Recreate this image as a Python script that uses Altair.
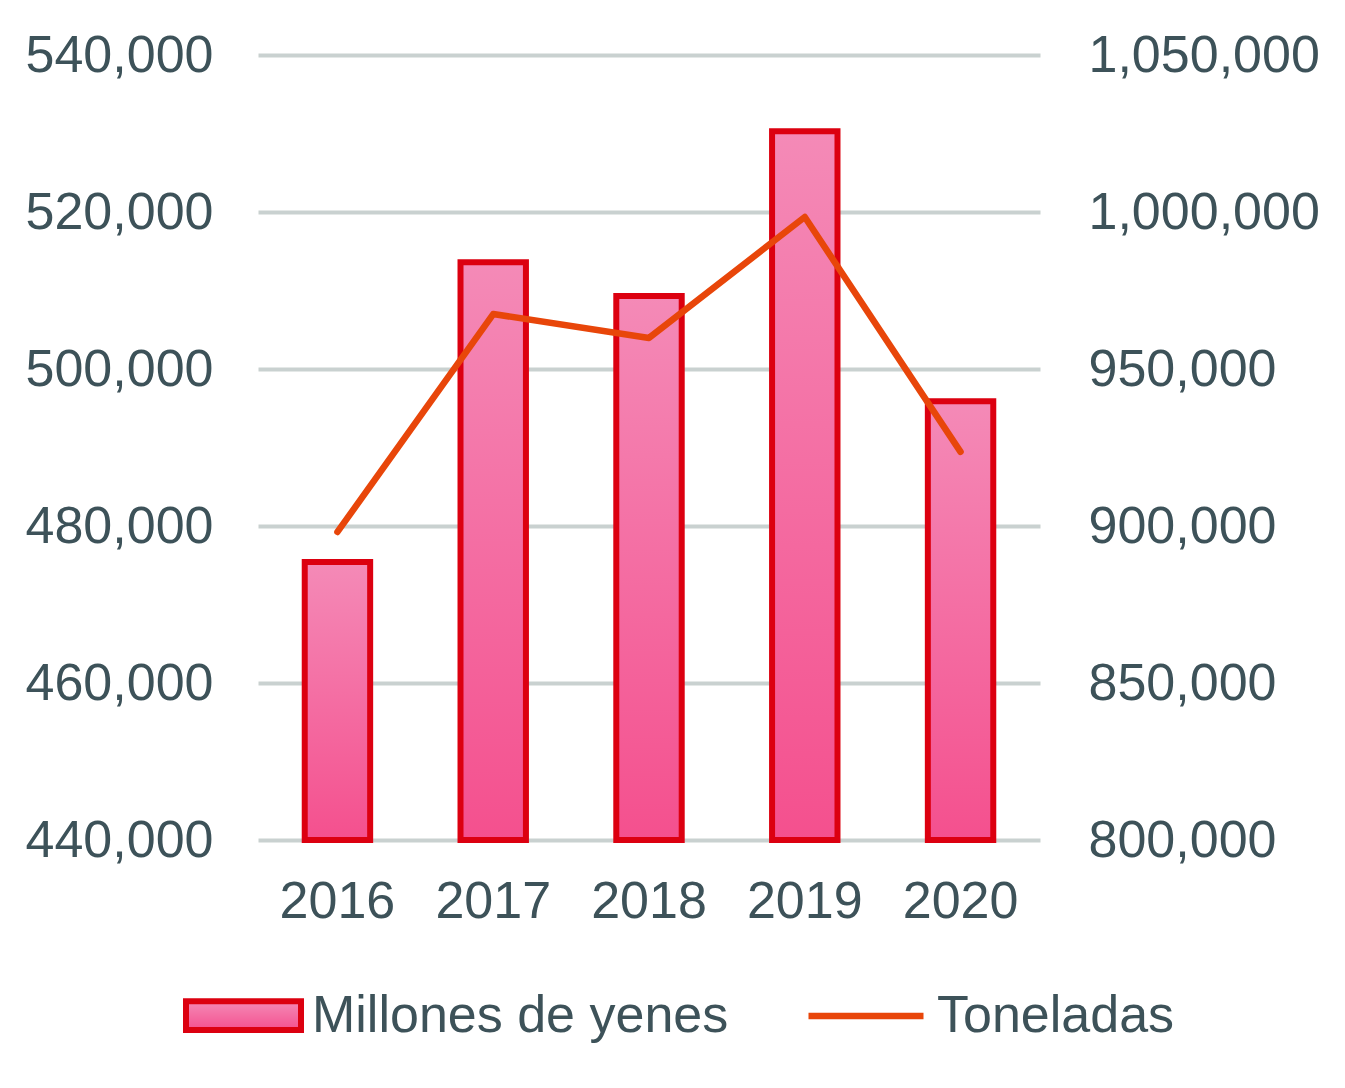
import altair as alt
import pandas as pd

years = ["2016", "2017", "2018", "2019", "2020"]
yen = [475400, 513600, 509300, 530300, 495900]
tons = [898100, 967500, 959900, 998400, 923600]
left_ticks = [440000, 460000, 480000, 500000, 520000, 540000]
right_ticks = [800000, 850000, 900000, 950000, 1000000, 1050000]

df = pd.DataFrame({"year": years, "yen": yen, "tons": tons,
                   "sb": ["Millones de yenes"] * 5, "sl": ["Toneladas"] * 5})

FONT = "Liberation Sans"
TXT = "#3d5259"

grad = alt.Gradient(gradient="linear", x1=0, x2=0, y1=0, y2=1,
                    stops=[alt.GradientStop(color="#f48ab7", offset=0),
                           alt.GradientStop(color="#f4508e", offset=1)])

x = alt.X("year:N", title=None, sort=years,
          scale=alt.Scale(paddingInner=0.58, paddingOuter=0.3),
          axis=alt.Axis(labelAngle=0, labelFontSize=52, labelFont=FONT, labelColor=TXT,
                        ticks=False, domain=False, labelPadding=36, grid=False))

bars = alt.Chart(df).mark_bar(fill=grad, strokeWidth=6).encode(
    x=x,
    y=alt.Y("yen:Q", title=None,
            scale=alt.Scale(domain=[440000, 540000], nice=False, zero=False),
            axis=alt.Axis(values=left_ticks, format=",.0f", labelFontSize=52, labelFont=FONT,
                          labelColor=TXT, ticks=False, domain=False, labelPadding=45,
                          labelLimit=400,
                          grid=True, gridColor="#c9d1d0", gridWidth=4)),
    y2=alt.datum(440000),
    stroke=alt.Stroke("sb:N", scale=alt.Scale(domain=["Millones de yenes"], range=["#dc0010"]),
                      legend=alt.Legend(title=None, orient="none", legendX=-75, legendY=900,
                                        symbolType="M-1,-0.25H1V0.25H-1Z", symbolSize=13225,
                                        symbolStrokeWidth=6, symbolFillColor="#f26aa4",
                                        labelFontSize=52, labelFont=FONT, labelColor=TXT,
                                        labelOffset=8, padding=0, labelLimit=600)),
)

line = alt.Chart(df).mark_line(strokeWidth=6.5, strokeCap="round", strokeJoin="round").encode(
    x=x,
    y=alt.Y("tons:Q", title=None,
            scale=alt.Scale(domain=[800000, 1050000], nice=False, zero=False),
            axis=alt.Axis(values=right_ticks, format=",.0f", orient="right", labelFontSize=52,
                          labelFont=FONT, labelColor=TXT, ticks=False, domain=False,
                          labelPadding=48, grid=False, labelLimit=400)),
    color=alt.Color("sl:N", scale=alt.Scale(domain=["Toneladas"], range=["#e8460a"]),
                    legend=alt.Legend(title=None, orient="none", legendX=547, legendY=900,
                                      symbolType="stroke", symbolSize=13225,
                                      symbolStrokeWidth=6.5,
                                      labelFontSize=52, labelFont=FONT, labelColor=TXT,
                                      labelOffset=10, padding=0, labelLimit=600)),
)

chart = alt.layer(bars, line).resolve_scale(
    y="independent", stroke="independent", color="independent"
).properties(
    width=782, height=785,
    autosize=alt.AutoSizeParams(type="none"),
    padding={"left": 258, "top": 55, "right": 305, "bottom": 248},
    background="white",
).configure_view(stroke=None)

chart.save("out.html", embed_options={"renderer": "svg", "actions": False})
